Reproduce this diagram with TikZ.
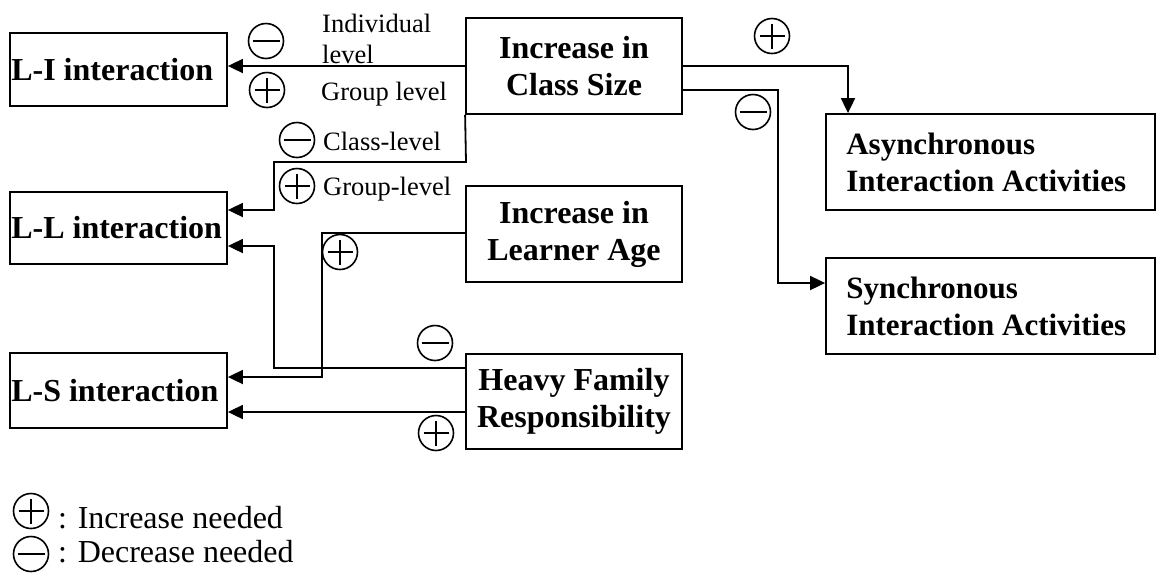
\documentclass[tikz,border=0pt]{standalone}
\usepackage{fontspec}
\setmainfont{Liberation Serif}
\usetikzlibrary{arrows.meta}
\begin{document}
\begin{tikzpicture}[x=1pt,y=-1pt,
 frame/.style={draw, line width=1.8pt, inner sep=0pt},
 box/.style={frame, font=\fontsize{32}{37}\selectfont\bfseries, align=center},
 btxt/.style={inner sep=0pt, anchor=west, align=left, font=\fontsize{32}{37}\selectfont\bfseries},
 atxt/.style={inner sep=0pt, anchor=west, align=left, font=\fontsize{31}{37}\selectfont\bfseries},
 lbl/.style={font=\fontsize{26.5}{31}\selectfont, inner sep=0pt, anchor=base west},
 leg/.style={font=\fontsize{32}{37}\selectfont, inner sep=0pt, anchor=base west},
 conn/.style={line width=1.8pt, -{Triangle[length=15pt,width=14pt]}},
 sym/.style={circle, draw, line width=1.6pt, minimum size=35pt, inner sep=0pt},
 plus/.style={sym, path picture={\draw[line width=2.8pt]
   ([xshift=-12.5pt]path picture bounding box.center) -- ([xshift=12.5pt]path picture bounding box.center)
   ([yshift=-12.5pt]path picture bounding box.center) -- ([yshift=12.5pt]path picture bounding box.center);}},
 minus/.style={sym, path picture={\draw[line width=2pt]
   ([xshift=-13.5pt]path picture bounding box.center) -- ([xshift=13.5pt]path picture bounding box.center);}}
]
\useasboundingbox (0,0) rectangle (1156,574);

% boxes
\node[frame, minimum width=217pt, minimum height=73pt] (LI) at (118.5,69.5) {};
\node[btxt] (LItxt) at ([xshift=2pt]LI.west) {L-I interaction};
\node[frame, minimum width=217pt, minimum height=72pt] (LL) at (118.5,228) {};
\node[btxt] (LLtxt) at ([xshift=2pt]LL.west) {L-L interaction};
\node[frame, minimum width=217pt, minimum height=75pt] (LS) at (118.5,390.5) {};
\node[btxt] (LStxt) at ([xshift=2pt]LS.west) {L-S interaction};
\node[box, minimum width=216pt, minimum height=96pt] (CS) at (574,66) {Increase in\\Class Size};
\node[box, minimum width=216pt, minimum height=96pt] (LA) at (574,234) {Increase in\\Learner Age};
\node[box, minimum width=216pt, minimum height=95pt] (HF) at (574,401.5) {Heavy Family\\Responsibility};
\node[frame, minimum width=329pt, minimum height=96pt] (AS) at (990.5,162) {};
\node[atxt] (AStxt) at ([xshift=21pt]AS.west) {Asynchronous\\Interaction Activities};
\node[frame, minimum width=329pt, minimum height=96pt] (SY) at (990.5,306) {};
\node[atxt] (SYtxt) at ([xshift=21pt]SY.west) {Synchronous\\Interaction Activities};

% connectors
\draw[conn] (CS.west) -- (CS.west -| LI.east);
\draw[conn] (CS.south west) -- (466,162) -- (274,162) -- (274,210) -- (LL.east |- 0,210);
\draw[conn] (LA.west |- 0,233) -- (322,233) -- (322,377) -- (LS.east |- 0,377);
\draw[conn] (HF.west |- 0,368) -- (274,368) -- (274,246) -- (LL.east |- 0,246);
\draw[conn] (HF.west |- 0,412) -- (LS.east |- 0,412);
\draw[conn] (CS.east) -- (848,66) -- (AS.north -| 848,0);
\draw[conn] (CS.east |- 0,90) -- (778,90) -- (778,283) -- (SY.west |- 0,283);

% symbols
\node[minus] (m1) at (266,41) {};
\node[plus]  (p1) at (267,90) {};
\node[minus] (m2) at (297,140) {};
\node[plus]  (p2) at (297,186) {};
\node[plus]  (p3) at (340,252) {};
\node[minus] (m3) at (435,343) {};
\node[plus]  (p4) at (436,433) {};
\node[plus]  (p5) at (772,36) {};
\node[minus] (m4) at (753,112) {};

% labels
\node[lbl] (t1) at (322,32) {Individual};
\node[lbl] (t2) at (322,63) {level};
\node[lbl] (t3) at (321,100) {Group level};
\node[lbl] (t4) at (323,150) {Class-level};
\node[lbl] (t5) at (323,195) {Group-level};

% legend
\node[plus]  (lp) at (31,511) {};
\node[minus] (lm) at (31,554) {};
\node[leg] (l1) at (58,528) {: Increase needed};
\node[leg] (l2) at (58,562) {: Decrease needed};
\end{tikzpicture}
\end{document}
